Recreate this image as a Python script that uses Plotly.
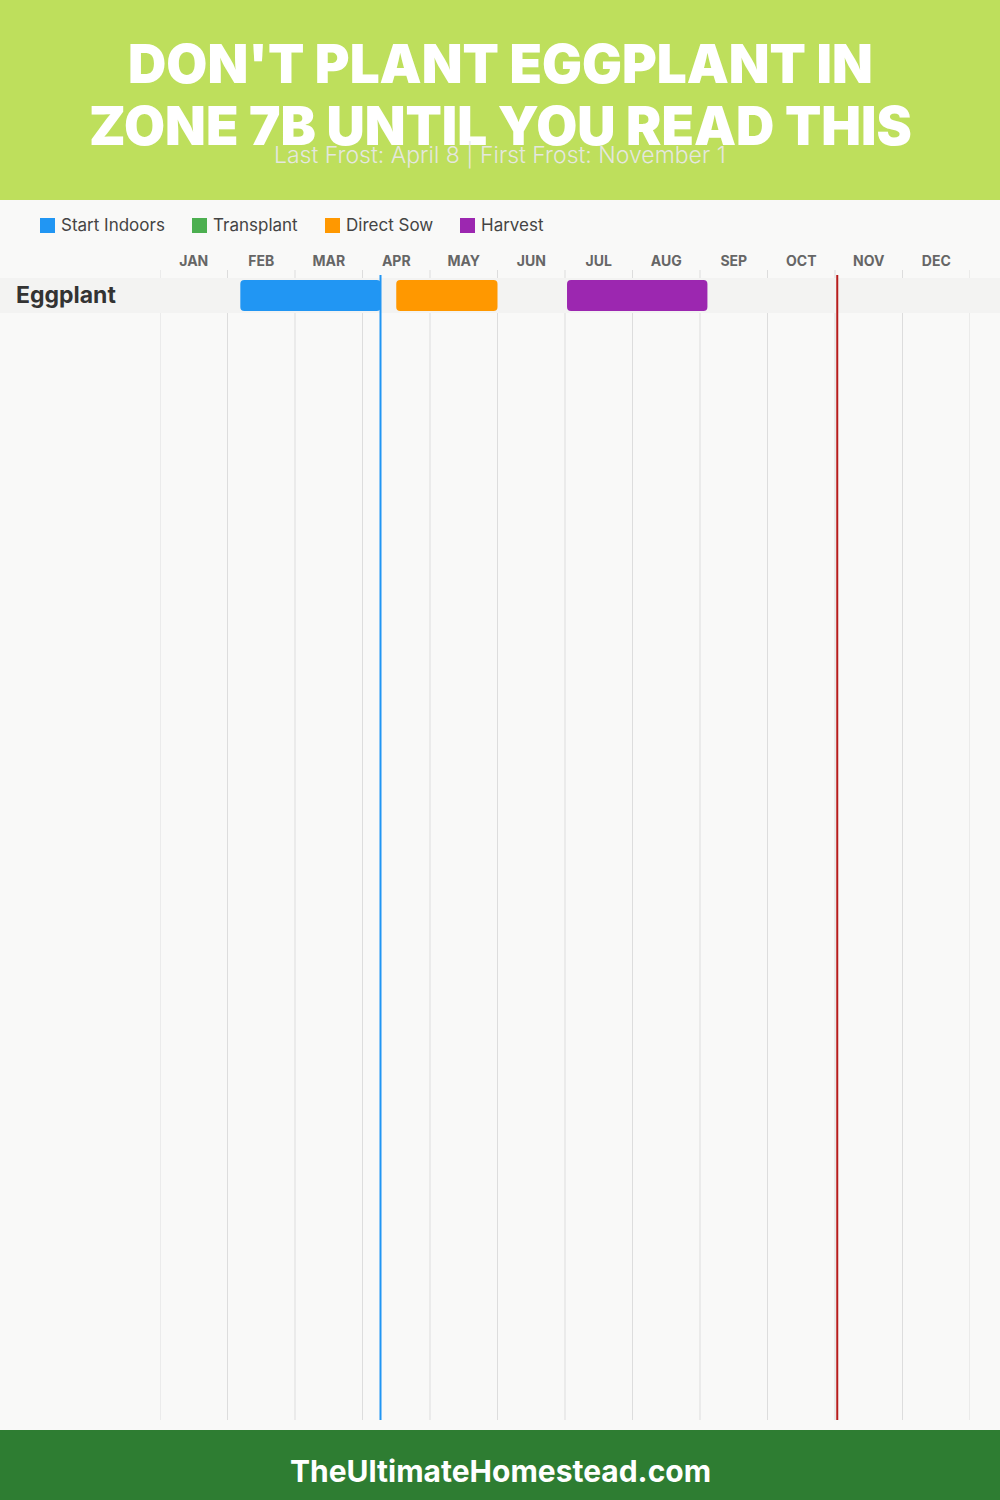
import plotly.graph_objects as go

# ---------------- data ----------------
months = ["JAN", "FEB", "MAR", "APR", "MAY", "JUN", "JUL", "AUG", "SEP", "OCT", "NOV", "DEC"]
crops = ["Eggplant"]
stages = ["Start Indoors", "Transplant", "Direct Sow", "Harvest"]
stage_colors = ["#2196F3", "#4CAF50", "#FF9800", "#9C27B0"]
# month position = month index + day/30
stage_start = {"Start Indoors": [1.19], "Transplant": [], "Direct Sow": [3.5], "Harvest": [6.03]}
stage_end = {"Start Indoors": [3.27], "Transplant": [], "Direct Sow": [5.0], "Harvest": [8.11]}
last_frost = 3 + 8 / 30     # April 8
first_frost = 10 + 1 / 30   # November 1

title_lines = ["DON'T PLANT EGGPLANT IN", "ZONE 7B UNTIL YOU READ THIS"]
subtitle = "Last Frost: April 8 | First Frost: November 1"
footer = "TheUltimateHomestead.com"

W, H = 1000, 1500
FONT = "Inter, 'Open Sans', sans-serif"


def py(pix):
    """pixel y from top -> paper y"""
    return 1 - pix / H


fig = go.Figure()

for stage, color in zip(stages, stage_colors):
    s = stage_start[stage]
    e = stage_end[stage]
    fig.add_trace(go.Bar(
        orientation="h",
        y=[crops.index("Eggplant")] * len(s),
        base=s,
        x=[b - a for a, b in zip(s, e)],
        width=0.88,
        marker=dict(color=color, line=dict(width=0)),
        name=stage,
        showlegend=False,
        hoverinfo="skip",
    ))

shapes = []
# header / footer backgrounds
shapes.append(dict(type="rect", xref="paper", yref="paper", x0=0, x1=1, y0=py(200), y1=1,
                   fillcolor="#BEDF5C", line=dict(width=0), layer="below"))
shapes.append(dict(type="rect", xref="paper", yref="paper", x0=0, x1=1, y0=0, y1=py(1430),
                   fillcolor="#2E7D32", line=dict(width=0), layer="below"))
# month grid lines
for i in range(len(months) + 1):
    shapes.append(dict(type="line", xref="x", yref="paper", x0=i, x1=i, y0=py(1420), y1=py(270),
                       line=dict(color="#DDDDDD", width=1), layer="below"))
# row bands
for j, _ in enumerate(crops):
    shapes.append(dict(type="rect", xref="paper", yref="y", x0=0, x1=1, y0=j - 0.5, y1=j + 0.5,
                       fillcolor="#F3F3F2", line=dict(width=0), layer="below"))
# frost lines
shapes.append(dict(type="line", xref="x", yref="paper", x0=last_frost, x1=last_frost,
                   y0=py(1420), y1=py(275), line=dict(color="#2196F3", width=2), layer="above"))
shapes.append(dict(type="line", xref="x", yref="paper", x0=first_frost, x1=first_frost,
                   y0=py(1420), y1=py(275), line=dict(color="#B71C1C", width=2), layer="above"))

annotations = []
# title
for k, line in enumerate(title_lines):
    annotations.append(dict(text=line, xref="paper", yref="paper", x=0.5, y=py(64 + 62 * k),
                            xanchor="center", yanchor="middle", showarrow=False,
                            font=dict(family=FONT, size=53, color="white", weight=900)))
annotations.append(dict(text=subtitle, xref="paper", yref="paper", x=0.5, y=py(155),
                        xanchor="center", yanchor="middle", showarrow=False,
                        font=dict(family=FONT, size=23, color="rgba(232,232,232,0.95)", weight=300)))
# legend (manual)
legend_x = [40, 192, 325, 460]
for lx, stage, color in zip(legend_x, stages, stage_colors):
    shapes.append(dict(type="rect", xref="paper", yref="paper", x0=lx / W, x1=(lx + 15) / W,
                       y0=py(233), y1=py(218), fillcolor=color, line=dict(width=0)))
    annotations.append(dict(text=stage, xref="paper", yref="paper", x=(lx + 19) / W, y=py(225.5),
                            xanchor="left", yanchor="middle", showarrow=False,
                            font=dict(family=FONT, size=17, color="#444444")))
# crop labels
for j, crop in enumerate(crops):
    annotations.append(dict(text=crop, xref="paper", yref="y", x=14 / W, y=j,
                            xanchor="left", yanchor="middle", showarrow=False,
                            font=dict(family=FONT, size=23, color="#333333", weight=700)))
# footer
annotations.append(dict(text=footer, xref="paper", yref="paper", x=0.5, y=py(1471),
                        xanchor="center", yanchor="middle", showarrow=False,
                        font=dict(family=FONT, size=30, color="white", weight=700)))

row_px = 35.0
top_off = (295.5 - 270) / row_px
span = (1420 - 270) / row_px

fig.update_layout(
    width=W, height=H, autosize=False,
    margin=dict(l=0, r=0, t=0, b=0),
    paper_bgcolor="#F9F9F8", plot_bgcolor="rgba(0,0,0,0)",
    barmode="overlay", barcornerradius=4,
    showlegend=False,
    shapes=shapes, annotations=annotations,
    xaxis=dict(domain=[0.16, 0.97], range=[0, 12], side="top",
               tickvals=[i + 0.5 for i in range(12)], ticktext=months,
               ticks="", showgrid=False, zeroline=False, showline=False,
               tickfont=dict(family=FONT, size=14, color="#666666", weight=700),
               fixedrange=True),
    yaxis=dict(domain=[py(1420), py(270)], range=[span - top_off, -top_off],
               showticklabels=False, ticks="", showgrid=False, zeroline=False,
               showline=False, fixedrange=True),
)

fig.write_html(
    "out.html",
    config={"displayModeBar": False},
    post_script="document.body.style.margin='0';document.body.style.overflow='hidden';",
)
